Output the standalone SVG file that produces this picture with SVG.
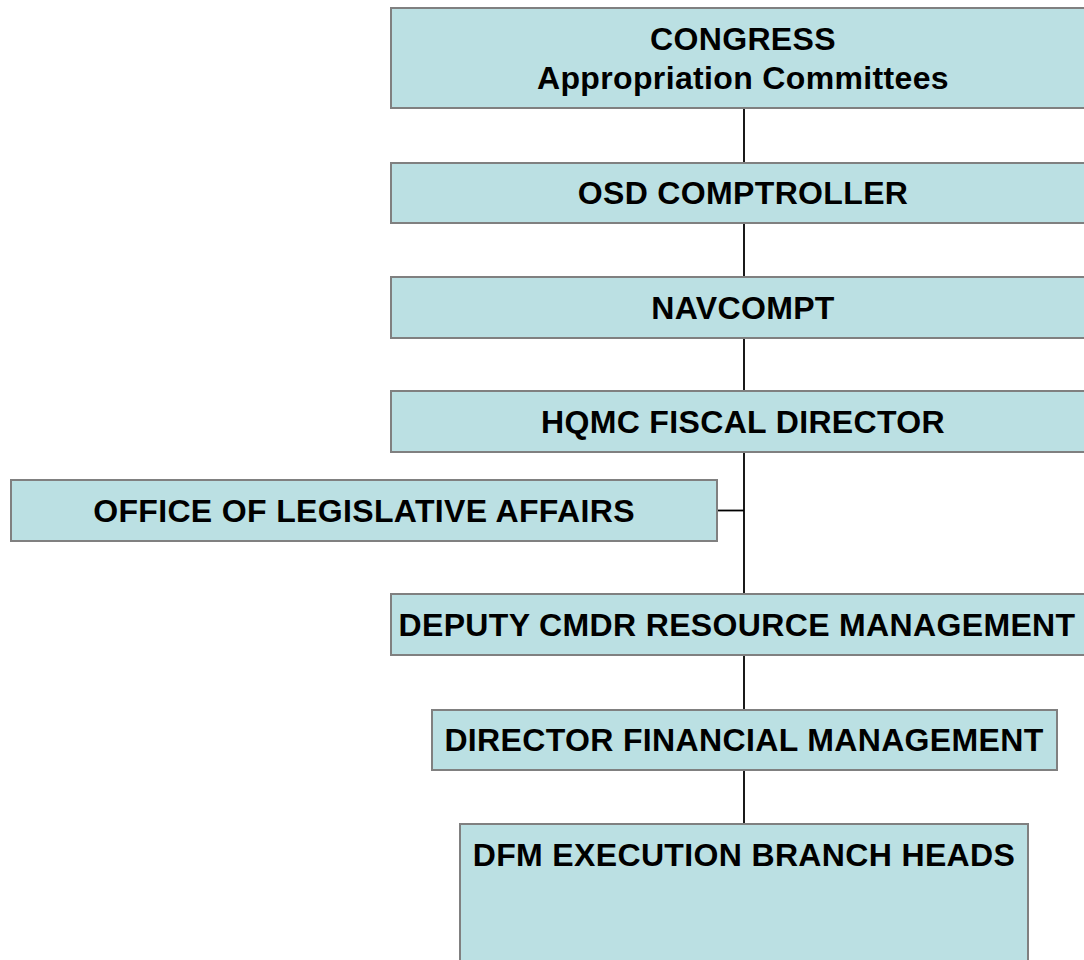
<svg xmlns="http://www.w3.org/2000/svg" width="1084" height="960" viewBox="0 0 1084 960">
<style>
.box{fill:#bbe0e3;stroke:#808080;stroke-width:2}
.lbl{font-family:"Liberation Sans",Arial,sans-serif;font-weight:bold;font-size:32px;letter-spacing:0.35px;fill:#000;text-anchor:middle}
.conn{stroke:#000;stroke-width:1.8;fill:none}
</style>
<rect width="1084" height="960" fill="#fff"/>
<g id="connectors">
<line class="conn" x1="744" y1="108" x2="744" y2="163"/>
<line class="conn" x1="744" y1="223" x2="744" y2="277"/>
<line class="conn" x1="744" y1="338" x2="744" y2="391"/>
<line class="conn" x1="744" y1="452" x2="744" y2="594"/>
<line class="conn" x1="717" y1="510.5" x2="744" y2="510.5"/>
<line class="conn" x1="744" y1="655" x2="744" y2="710"/>
<line class="conn" x1="744" y1="770" x2="744" y2="824"/>
</g>
<g id="congress">
<rect class="box" x="391" y="8" width="706" height="100"/>
<text class="lbl" x="743" y="49.5">CONGRESS</text>
<text class="lbl" x="743" y="88.5">Appropriation Committees</text>
</g>
<g id="osd">
<rect class="box" x="391" y="163" width="706" height="60"/>
<text class="lbl" x="743" y="204">OSD COMPTROLLER</text>
</g>
<g id="navcompt">
<rect class="box" x="391" y="277" width="706" height="61"/>
<text class="lbl" x="743" y="318.5">NAVCOMPT</text>
</g>
<g id="hqmc">
<rect class="box" x="391" y="391" width="706" height="61"/>
<text class="lbl" x="743" y="432.5">HQMC FISCAL DIRECTOR</text>
</g>
<g id="ola">
<rect class="box" x="11" y="480" width="706" height="61"/>
<text class="lbl" x="364" y="521.5">OFFICE OF LEGISLATIVE AFFAIRS</text>
</g>
<g id="deputy">
<rect class="box" x="391" y="594" width="706" height="61"/>
<text class="lbl" x="737" y="635.5">DEPUTY CMDR RESOURCE MANAGEMENT</text>
</g>
<g id="dfm-director">
<rect class="box" x="432" y="710" width="625" height="60"/>
<text class="lbl" x="744" y="751">DIRECTOR FINANCIAL MANAGEMENT</text>
</g>
<g id="dfm-exec">
<rect class="box" x="460" y="824" width="568" height="150"/>
<text class="lbl" x="744" y="865.5">DFM EXECUTION BRANCH HEADS</text>
</g>
</svg>
